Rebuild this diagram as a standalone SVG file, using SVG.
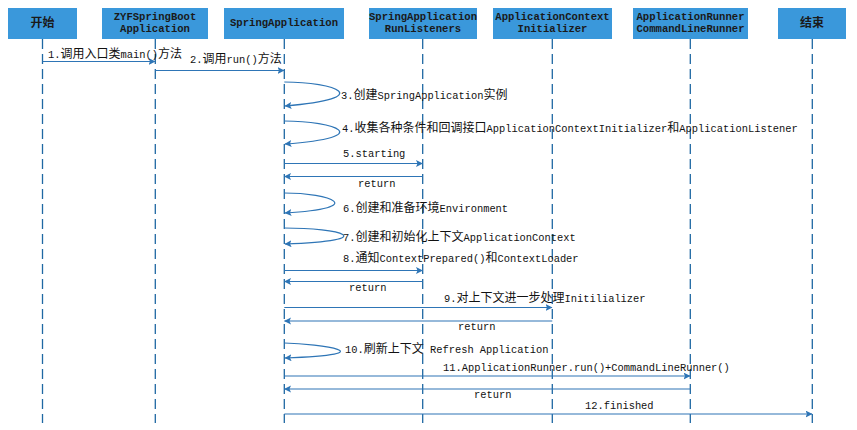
<svg xmlns="http://www.w3.org/2000/svg" width="857" height="430" viewBox="0 0 857 430">
<defs>
<marker id="ah" markerUnits="userSpaceOnUse" markerWidth="8" markerHeight="8" refX="6.5" refY="3.5" orient="auto">
<path d="M0,0 L7,3.5 L0,7 L1.5,3.5 z" fill="#2e75b6"/>
</marker>
<style>
.box{fill:#3a98db;}
.hd{font-family:"Liberation Mono","Noto Sans CJK SC",monospace;font-size:10.6px;font-weight:bold;fill:#1a1a1a;text-anchor:middle;}
.hc{font-family:"Noto Sans CJK SC",sans-serif;font-size:12px;font-weight:bold;fill:#1a1a1a;text-anchor:middle;}
.life{stroke:#1f68a3;stroke-width:1.3;stroke-dasharray:10 5;fill:none;}
.msg{stroke:#2e75b6;stroke-width:1.2;fill:none;marker-end:url(#ah);}
.lb{font-family:"Liberation Mono","Noto Sans CJK SC",monospace;font-size:10.4px;fill:#111;}
.c{font-family:"Noto Sans CJK SC",sans-serif;font-size:12px;}
</style>
</defs>
<g id="node-start"><rect class="box" x="8" y="8" width="69" height="31"/><text class="hc" x="42.5" y="27">开始</text><line class="life" x1="42.5" y1="39" x2="42.5" y2="423"/></g>
<g id="node-zyf"><rect class="box" x="102" y="8" width="106" height="31"/><text class="hd" x="155" y="20">ZYFSpringBoot</text><text class="hd" x="155" y="31.5">Application</text><line class="life" x1="155.3" y1="39" x2="155.3" y2="423"/></g>
<g id="node-springapp"><rect class="box" x="224" y="8" width="120" height="31"/><text class="hd" x="284" y="26">SpringApplication</text><line class="life" x1="284.3" y1="39" x2="284.3" y2="423"/></g>
<g id="node-listeners"><rect class="box" x="369" y="8" width="108" height="31"/><text class="hd" x="423" y="20">SpringApplication</text><text class="hd" x="423" y="31.5">RunListeners</text><line class="life" x1="422.7" y1="39" x2="422.7" y2="423"/></g>
<g id="node-initializer"><rect class="box" x="493" y="8" width="119" height="31"/><text class="hd" x="552.5" y="20">ApplicationContext</text><text class="hd" x="552.5" y="31.5">Initializer</text><line class="life" x1="552.3" y1="39" x2="552.3" y2="423"/></g>
<g id="node-runner"><rect class="box" x="633" y="8" width="115" height="31"/><text class="hd" x="690.5" y="20">ApplicationRunner</text><text class="hd" x="690.5" y="31.5">CommandLineRunner</text><line class="life" x1="690.3" y1="39" x2="690.3" y2="423"/></g>
<g id="node-end"><rect class="box" x="778" y="8" width="68" height="31"/><text class="hc" x="812" y="27">结束</text><line class="life" x1="812.3" y1="39" x2="812.3" y2="423"/></g>
<g id="connectors">
<line class="msg" x1="42.5" y1="61.5" x2="155" y2="61.5"/>
<line class="msg" x1="155.3" y1="70.5" x2="284" y2="70.5"/>
<path class="msg" d="M284.3,82 C335,82 378,98 285,106"/>
<path class="msg" d="M284.3,121 C335,121 378,137 285,144"/>
<line class="msg" x1="284.3" y1="163.5" x2="422.5" y2="163.5"/>
<line class="msg" x1="422.7" y1="176.5" x2="284.5" y2="176.5"/>
<path class="msg" d="M284.3,193 C330,193 370,208 285,213"/>
<path class="msg" d="M284.3,228 C340,228 384,240 285,244"/>
<line class="msg" x1="284.3" y1="270.5" x2="422.5" y2="270.5"/>
<line class="msg" x1="422.7" y1="281.5" x2="284.5" y2="281.5"/>
<line class="msg" x1="284.3" y1="307.5" x2="552" y2="307.5"/>
<line class="msg" x1="552.3" y1="321" x2="284.5" y2="321"/>
<path class="msg" d="M284.3,343 C320,344 390,354 285,358"/>
<line class="msg" x1="284.3" y1="376" x2="690" y2="376"/>
<line class="msg" x1="690.3" y1="389" x2="284.5" y2="389"/>
<line class="msg" x1="284.3" y1="414" x2="812" y2="414"/>
<text class="lb" x="48" y="58">1.<tspan class="c">调用入口类</tspan>main()<tspan class="c">方法</tspan></text>
<text class="lb" x="190" y="63">2.<tspan class="c">调用</tspan>run()<tspan class="c">方法</tspan></text>
<text class="lb" x="341" y="99">3.<tspan class="c">创建</tspan>SpringApplication<tspan class="c">实例</tspan></text>
<text class="lb" x="342" y="132">4.<tspan class="c">收集各种条件和回调接口</tspan>ApplicationContextInitializer<tspan class="c">和</tspan>ApplicationListener</text>
<text class="lb" x="343" y="157">5.starting</text>
<text class="lb" x="358" y="187">return</text>
<text class="lb" x="343" y="212">6.<tspan class="c">创建和准备环境</tspan>Environment</text>
<text class="lb" x="343" y="241">7.<tspan class="c">创建和初始化上下文</tspan>ApplicationContext</text>
<text class="lb" x="343" y="262">8.<tspan class="c">通知</tspan>ContextPrepared()<tspan class="c">和</tspan>ContextLoader</text>
<text class="lb" x="349" y="291">return</text>
<text class="lb" x="444" y="302">9.<tspan class="c">对上下文进一步处理</tspan>Initilializer</text>
<text class="lb" x="458" y="330">return</text>
<text class="lb" x="345" y="353">10.<tspan class="c">刷新上下文</tspan> Refresh Application</text>
<text class="lb" x="443" y="371">11.ApplicationRunner.run()+CommandLineRunner()</text>
<text class="lb" x="474" y="398">return</text>
<text class="lb" x="585" y="409">12.finished</text>
</g>
</svg>
